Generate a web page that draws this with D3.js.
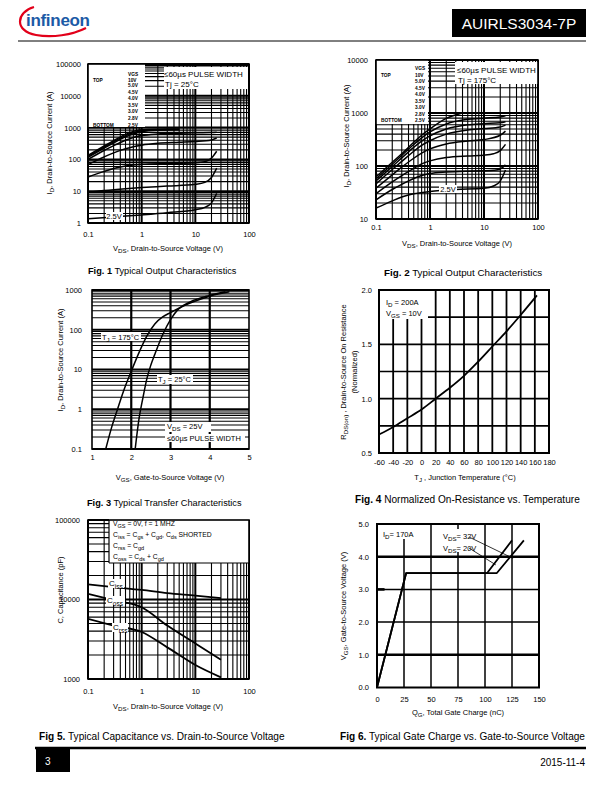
<!DOCTYPE html>
<html><head><meta charset="utf-8">
<script src="https://cdn.jsdelivr.net/npm/d3@7"></script>
<style>
body{margin:0;background:#fff}
svg{display:block}
text{font-family:"Liberation Sans",Arial,Helvetica,sans-serif;fill:#000}
</style>
</head><body>
<svg id="page" width="612" height="792"></svg>
<script>
// ---------------- DATA ----------------
// Fig 1: Typical output characteristics, Tj = 25°C  [VDS (V), ID (A)]
const fig1Legend = ["10V","5.0V","4.5V","4.0V","3.5V","3.0V","2.8V","2.5V"];
const fig1_10V = [[0.1,135],[0.2,265],[0.3,390],[0.5,610],[0.7,760],[1,850],[2,890],[5,900]];
const fig1_5V0 = [[0.1,125],[0.2,245],[0.3,360],[0.5,560],[0.7,700],[1,800],[2,860],[5,880]];
const fig1_4V5 = [[0.1,115],[0.2,225],[0.3,330],[0.5,510],[0.7,640],[1,740],[2,820],[5,850]];
const fig1_4V0 = [[0.1,100],[0.2,190],[0.3,270],[0.5,400],[0.7,490],[1,560],[2,630],[5,670],[10,690],[20,700],[25,710]];
const fig1_3V5 = [[0.1,68],[0.2,120],[0.3,160],[0.5,215],[0.7,250],[1,280],[2,320],[5,345],[10,365],[20,410],[25,470]];
const fig1_3V0 = [[0.1,28],[0.2,42],[0.3,52],[0.5,62],[0.7,67],[1,70],[3,74],[10,78],[15,84],[20,110],[25,180]];
const fig1_2V8 = [[0.1,9.2],[0.2,10.5],[0.5,12],[1,13],[3,14.5],[10,16.5],[15,19],[20,27],[25,53]];
const fig1_2V5 = [[0.1,1.35],[0.3,1.55],[1,1.8],[3,2.1],[10,2.6],[15,3.1],[20,4.3],[25,8.5]];

// Fig 2: Typical output characteristics, Tj = 175°C
const fig2Legend = ["10V","5.0V","4.5V","4.0V","3.5V","3.0V","2.8V","2.5V"];
const fig2_10V = [[0.1,62],[0.2,118],[0.3,170],[0.5,280],[0.7,380],[1,500],[2,790],[3.7,980]];
const fig2_5V0 = [[0.1,57],[0.2,108],[0.3,158],[0.5,255],[0.7,340],[1,440],[2,620],[5,760],[10,800],[20,840],[25,885]];
const fig2_4V5 = [[0.1,52],[0.2,98],[0.3,142],[0.5,225],[0.7,295],[1,370],[2,500],[5,600],[10,630],[20,655],[25,684]];
const fig2_4V0 = [[0.1,46],[0.2,86],[0.3,122],[0.5,190],[0.7,245],[1,300],[2,400],[5,480],[10,510],[20,545],[25,590]];
const fig2_3V5 = [[0.1,38],[0.2,68],[0.3,95],[0.5,140],[0.7,175],[1,210],[2,260],[5,295],[10,315],[20,380],[25,455]];
const fig2_3V0 = [[0.1,30],[0.2,50],[0.3,66],[0.5,90],[0.7,110],[1,125],[2,145],[5,155],[10,160],[15,170],[20,195],[25,256]];
const fig2_2V8 = [[0.1,23],[0.2,36],[0.3,45],[0.5,58],[0.7,66],[1,72],[2,77],[5,80],[10,81],[15,83],[20,88],[25,105]];
const fig2_2V5 = [[0.1,16],[0.2,22],[0.3,26],[0.5,30],[1,33],[3,36],[10,38],[15,42],[20,52],[25,84]];

// Fig 3: Transfer characteristics [VGS (V), ID (A)]
const fig3_175C = [[1.35,0.1],[1.5,0.35],[1.65,1],[1.8,2.8],[2.0,9],[2.2,27],[2.4,70],[2.6,140],[2.8,210],[3.0,270],[3.5,470],[4.0,700],[4.5,900]];
const fig3_25C = [[2.1,0.1],[2.2,0.6],[2.3,2],[2.4,6],[2.5,13],[2.6,24],[2.8,75],[3.0,180],[3.2,330],[3.5,500],[4.0,730],[4.4,900]];

// Fig 4: Normalized RDS(on) vs temperature [Tj (°C), ratio]
const fig4_rds = [[-60,0.67],[-40,0.74],[-20,0.82],[0,0.9],[20,1.0],[40,1.1],[60,1.21],[80,1.34],[100,1.48],[120,1.62],[140,1.77],[163,1.95]];

// Fig 5: Capacitance [VDS (V), C (pF)]
const fig5_ciss = [[0.1,15500],[0.3,14300],[1,13200],[3,12000],[10,11200],[30,10400]];
const fig5_coss = [[0.1,11800],[0.3,9800],[1,8000],[3,4700],[10,2800],[30,1750]];
const fig5_crss = [[0.1,5700],[0.3,4700],[1,3900],[3,2500],[10,1500],[30,1050]];

// Fig 6: Gate charge [QG (nC), VGS (V)]
const fig6_vds20 = [[0,0],[27,3.5],[102,3.5],[125,4.5]];
const fig6_vds32 = [[0,0],[27,3.5],[111,3.5],[136,4.5]];

// tick labels
const ticksFig1Y = [1,10,100,1000,10000,100000];
const ticksFig2Y = [10,100,1000,10000];
const ticksLogX = [0.1,1,10,100];
const ticksFig3X = [1,2,3,4,5];
const ticksFig3Y = [0.1,1,10,100,1000];
const ticksFig4X = [-60,-40,-20,0,20,40,60,80,100,120,140,160,180];
const ticksFig4Y = [0.5,1.0,1.5,2.0];
const ticksFig5Y = [1000,10000,100000];
const ticksFig6X = [0,25,50,75,100,125,150];
const ticksFig6Y = [0,1,2,3,4,5];

// ---------------- HELPERS ----------------
const svg = d3.select("#page");
let clipN = 0;

function rich(sel, str, fs) {
  const parts = str.split(/(_\{[^}]*\}|\*\*[^*]*\*\*)/).filter(s => s.length);
  let shift = 0;
  parts.forEach(p => {
    let t = p, sub = false, bold = false;
    if (p.startsWith("_{")) { t = p.slice(2, -1); sub = true; }
    else if (p.startsWith("**")) { t = p.slice(2, -2); bold = true; }
    const sp = sel.append("tspan").text(t);
    const want = sub ? fs * 0.32 : 0;
    if (want !== shift) { sp.attr("dy", want - shift); shift = want; }
    if (sub) sp.attr("font-size", fs * 0.82);
    if (bold) sp.attr("font-weight", "bold");
  });
  return sel;
}
function label(x, y, str, fs, opt = {}) {
  const t = svg.append("text").attr("x", x).attr("y", y).attr("font-size", fs)
    .attr("text-anchor", opt.anchor || "start");
  if (opt.rotate) t.attr("transform", `rotate(-90 ${x} ${y})`);
  if (opt.weight) t.attr("font-weight", opt.weight);
  if (opt.fill) t.style("fill", opt.fill);
  rich(t, str, fs);
  return t;
}
function whiteBox(x, y, w, h) {
  svg.append("rect").attr("x", x).attr("y", y).attr("width", w).attr("height", h).attr("fill", "#fff");
}
function panel(o) {
  const g = svg.append("g");
  const x = (o.xlog ? d3.scaleLog() : d3.scaleLinear()).domain(o.xd).range([o.L, o.R]);
  const y = (o.ylog ? d3.scaleLog() : d3.scaleLinear()).domain(o.yd).range([o.B, o.T]);
  const id = "clip" + (clipN++);
  svg.append("clipPath").attr("id", id).append("rect")
    .attr("x", o.L).attr("y", o.T).attr("width", o.R - o.L).attr("height", o.B - o.T);
  return { g, x, y, id, o };
}
const isDecade = v => Math.abs(Math.log10(v) - Math.round(Math.log10(v))) < 1e-6;
function vgrid(p, vals, w) {
  p.g.append("g").selectAll("line").data(vals).join("line")
    .attr("x1", d => p.x(d)).attr("x2", d => p.x(d))
    .attr("y1", p.o.T).attr("y2", p.o.B)
    .attr("stroke", "#000").attr("stroke-width", w);
}
function hgrid(p, vals, w) {
  p.g.append("g").selectAll("line").data(vals).join("line")
    .attr("y1", d => p.y(d)).attr("y2", d => p.y(d))
    .attr("x1", p.o.L).attr("x2", p.o.R)
    .attr("stroke", "#000").attr("stroke-width", w);
}
function frame(p, w = 1.6) {
  svg.append("rect").attr("x", p.o.L).attr("y", p.o.T)
    .attr("width", p.o.R - p.o.L).attr("height", p.o.B - p.o.T)
    .attr("fill", "none").attr("stroke", "#000").attr("stroke-width", w);
}
function curve(p, data, w = 1.5, smooth = true) {
  const line = d3.line().x(d => p.x(d[0])).y(d => p.y(d[1]));
  if (smooth) line.curve(d3.curveMonotoneX);
  svg.append("path").attr("clip-path", `url(#${p.id})`).attr("d", line(data))
    .attr("fill", "none").attr("stroke", "#000").attr("stroke-width", w)
    .attr("stroke-linejoin", "round");
}
function axes(p, xt, xfmt, xpad, yt, yfmt, ypad, fs = 7.5) {
  const ax = svg.append("g").attr("transform", `translate(0,${p.o.B})`)
    .call(d3.axisBottom(p.x).tickValues(xt).tickFormat(xfmt).tickSize(0).tickPadding(xpad));
  const ay = svg.append("g").attr("transform", `translate(${p.o.L},0)`)
    .call(d3.axisLeft(p.y).tickValues(yt).tickFormat(yfmt).tickSize(0).tickPadding(ypad));
  [ax, ay].forEach(a => {
    a.select(".domain").remove();
    a.selectAll("text").attr("font-size", fs).attr("font-family", null).style("fill", "#000");
  });
}
const fmtPlain = d => String(d);

// ---------------- HEADER / FOOTER ----------------
svg.append("path").attr("d", "M 34 7 C 16 12, 14 31, 36 35 C 52 38, 72 35, 86 28")
  .attr("fill", "none").attr("stroke", "#e2001a").attr("stroke-width", 2.2);
label(26, 26, "infineon", 17, { fill: "#1c5aa6", weight: "bold" }).attr("letter-spacing", -0.3);
svg.append("rect").attr("x", 452).attr("y", 9).attr("width", 134).attr("height", 28).attr("fill", "#000");
label(519, 29, "AUIRLS3034-7P", 15.5, { anchor: "middle", fill: "#fff" });
svg.append("line").attr("x1", 18).attr("x2", 586).attr("y1", 41).attr("y2", 41).attr("stroke", "#000").attr("stroke-width", 1);

svg.append("line").attr("x1", 35).attr("x2", 586).attr("y1", 748).attr("y2", 748).attr("stroke", "#000").attr("stroke-width", 2.5);
svg.append("rect").attr("x", 36).attr("y", 749).attr("width", 34).attr("height", 23).attr("fill", "#000");
label(45, 765, "3", 10, { fill: "#fff" });
label(585, 766, "2015-11-4", 10, { anchor: "end" });

// ---------------- FIG 1 ----------------
{
  const p = panel({ L: 88, R: 249, T: 64, B: 223, xlog: true, ylog: true, xd: [0.1, 100], yd: [1, 100000] });
  const xv = p.x.ticks(), yv = p.y.ticks();
  vgrid(p, xv.filter(d => !isDecade(d)), 1.1); vgrid(p, xv.filter(isDecade), 2);
  hgrid(p, yv.filter(d => !isDecade(d)), 1.1); hgrid(p, yv.filter(isDecade), 2);
  whiteBox(88, 64, 57, 63);
  whiteBox(164, 67, 84, 22);
  [fig1_10V, fig1_5V0, fig1_4V5, fig1_4V0, fig1_3V5, fig1_3V0, fig1_2V8, fig1_2V5].forEach(c => curve(p, c));
  frame(p);
  whiteBox(106, 212, 17, 8);
  label(114, 219, "2.5V", 7.5, { anchor: "middle" });
  label(128, 75.5, "VGS", 4.8, { weight: "bold" });
  label(93, 81.5, "TOP", 4.8, { weight: "bold" });
  label(93, 127, "BOTTOM", 4.8, { weight: "bold" });
  const ly = [81.5, 87, 93.5, 100, 106.5, 113, 120, 127];
  fig1Legend.forEach((s, i) => label(128, ly[i], s, 4.8, { weight: "bold" }));
  label(164, 77, "≤60µs PULSE WIDTH", 8);
  label(165, 86.5, "Tj = 25°C", 8);
  axes(p, ticksLogX, fmtPlain, 9, ticksFig1Y, fmtPlain, 7);
  label(52, 143, "I_{D}, Drain-to-Source Current (A)", 7.5, { anchor: "middle", rotate: true });
  label(168, 251, "V_{DS}, Drain-to-Source Voltage (V)", 7.5, { anchor: "middle" });
  label(88, 274, "**Fig. 1** Typical Output Characteristics", 9.2);
}

// ---------------- FIG 2 ----------------
{
  const p = panel({ L: 376, R: 538, T: 60, B: 219, xlog: true, ylog: true, xd: [0.1, 100], yd: [10, 10000] });
  const xv = p.x.ticks(), yv = p.y.ticks();
  vgrid(p, xv.filter(d => !isDecade(d)), 1.1); vgrid(p, xv.filter(isDecade), 2);
  hgrid(p, yv.filter(d => !isDecade(d)), 1.1); hgrid(p, yv.filter(isDecade), 2);
  whiteBox(376, 60, 52, 64);
  whiteBox(455, 62, 83, 22);
  [fig2_10V, fig2_5V0, fig2_4V5, fig2_4V0, fig2_3V5, fig2_3V0, fig2_2V8, fig2_2V5].forEach(c => curve(p, c));
  frame(p);
  whiteBox(439, 185, 18, 8);
  label(448, 192, "2.5V", 7.5, { anchor: "middle" });
  label(415, 70, "VGS", 4.8, { weight: "bold" });
  label(381, 76.5, "TOP", 4.8, { weight: "bold" });
  label(381, 122, "BOTTOM", 4.8, { weight: "bold" });
  const ly = [76.5, 83, 89.5, 96, 102.5, 109, 115.5, 122];
  fig2Legend.forEach((s, i) => label(415, ly[i], s, 4.8, { weight: "bold" }));
  label(457, 73, "≤60µs PULSE WIDTH", 8);
  label(458, 82.5, "Tj = 175°C", 8);
  axes(p, ticksLogX, fmtPlain, 6, ticksFig2Y, fmtPlain, 8);
  label(349, 136, "I_{D}, Drain-to-Source Current (A)", 7.5, { anchor: "middle", rotate: true });
  label(457, 246, "V_{DS}, Drain-to-Source Voltage (V)", 7.5, { anchor: "middle" });
  label(384, 276, "**Fig. 2** Typical Output Characteristics", 9.8);
}

// ---------------- FIG 3 ----------------
{
  const p = panel({ L: 92, R: 249, T: 290, B: 449, xlog: false, ylog: true, xd: [1, 5], yd: [0.1, 1000] });
  const yv = p.y.ticks();
  hgrid(p, yv.filter(d => !isDecade(d)), 1.1); hgrid(p, yv.filter(isDecade), 2.2);
  vgrid(p, [2, 3, 4], 2.2);
  [fig3_175C, fig3_25C].forEach(c => curve(p, c, 1.5));
  frame(p);
  whiteBox(101, 332, 40, 9);
  label(102, 340, "T_{J} = 175°C", 7.5);
  whiteBox(157, 375, 36, 9);
  label(158, 382, "T_{J} = 25°C", 7.5);
  whiteBox(165, 422, 46, 10);
  label(167, 429, "V_{DS} = 25V", 7.5);
  whiteBox(165, 434, 80, 8);
  label(167, 441, "≤60µs PULSE WIDTH", 7.5);
  axes(p, ticksFig3X, fmtPlain, 6, ticksFig3Y, fmtPlain, 10);
  label(63, 360, "I_{D}, Drain-to-Source Current  (A)", 7.5, { anchor: "middle", rotate: true });
  label(170, 480, "V_{GS}, Gate-to-Source Voltage (V)", 7.5, { anchor: "middle" });
  label(87, 506, "**Fig. 3** Typical Transfer Characteristics", 9.2);
}

// ---------------- FIG 4 ----------------
{
  const p = panel({ L: 379, R: 549, T: 290, B: 453, xlog: false, ylog: false, xd: [-60, 180], yd: [0.5, 2.0] });
  vgrid(p, d3.range(-40, 180, 20), 1.8);
  hgrid(p, [0.75, 1.0, 1.25, 1.5, 1.75], 1.6);
  whiteBox(380, 291, 48, 28);
  curve(p, fig4_rds, 1.8);
  frame(p, 2);
  label(386, 305, "I_{D} = 200A", 7.5);
  label(386, 316, "V_{GS} = 10V", 7.5);
  axes(p, ticksFig4X, fmtPlain, 7, ticksFig4Y, d3.format(".1f"), 7);
  label(346, 372, "R_{DS(on)} , Drain-to-Source On Resistance", 7.5, { anchor: "middle", rotate: true });
  label(357, 372, "(Normalized)", 7.5, { anchor: "middle", rotate: true });
  label(465, 480, "T_{J} , Junction Temperature (°C)", 7.5, { anchor: "middle" });
  label(355, 503, "**Fig. 4** Normalized On-Resistance vs. Temperature", 10.1);
}

// ---------------- FIG 5 ----------------
{
  const p = panel({ L: 88, R: 249, T: 520, B: 679, xlog: true, ylog: true, xd: [0.1, 100], yd: [1000, 100000] });
  const xv = p.x.ticks(), yv = p.y.ticks();
  vgrid(p, xv.filter(d => !isDecade(d)), 1.1); vgrid(p, xv.filter(isDecade), 2);
  hgrid(p, yv.filter(d => !isDecade(d)), 1.1); hgrid(p, yv.filter(isDecade), 2);
  whiteBox(109, 518, 140, 45);
  svg.append("line").attr("x1", 109).attr("x2", 109).attr("y1", 520).attr("y2", 563).attr("stroke", "#000").attr("stroke-width", 1.2);
  svg.append("line").attr("x1", 109).attr("x2", 249).attr("y1", 563).attr("y2", 563).attr("stroke", "#000").attr("stroke-width", 1.2);
  [fig5_ciss, fig5_coss, fig5_crss].forEach(c => curve(p, c, 1.8));
  frame(p);
  whiteBox(108, 579, 16, 9);
  label(109, 586, "C_{iss}", 8);
  whiteBox(106, 596, 19, 9);
  label(107, 603, "C_{oss}", 8);
  whiteBox(112, 623, 16, 9);
  label(113, 630, "C_{rss}", 8);
  label(113, 526, "V_{GS}   = 0V,       f = 1 MHZ", 6.8);
  label(113, 536.5, "C_{iss}   = C_{gs} + C_{gd},  C_{ds} SHORTED", 6.8);
  label(113, 547.5, "C_{rss}   = C_{gd}", 6.8);
  label(113, 558.5, "C_{oss}   = C_{ds} + C_{gd}", 6.8);
  axes(p, ticksLogX, fmtPlain, 10, ticksFig5Y, fmtPlain, 8);
  label(63, 590, "C, Capacitance (pF)", 7.5, { anchor: "middle", rotate: true });
  label(168, 709, "V_{DS}, Drain-to-Source Voltage (V)", 7.5, { anchor: "middle" });
  label(39, 740, "**Fig 5.**  Typical Capacitance vs. Drain-to-Source Voltage", 10.1);
}

// ---------------- FIG 6 ----------------
{
  const p = panel({ L: 377, R: 539, T: 524, B: 687.5, xlog: false, ylog: false, xd: [0, 150], yd: [0, 5] });
  vgrid(p, [25, 50, 75, 100, 125], 1.5);
  hgrid(p, [2, 3], 1.5);
  hgrid(p, [1, 4], 2.6);
  svg.append("line").attr("x1", p.x(0)).attr("x2", p.x(7)).attr("y1", p.y(3)).attr("y2", p.y(3)).attr("stroke", "#000").attr("stroke-width", 2.6);
  whiteBox(378, 525, 50, 14);
  whiteBox(440, 529, 36, 23);
  curve(p, fig6_vds20, 1.8, false);
  curve(p, fig6_vds32, 1.8, false);
  frame(p, 2);
  label(383, 537, "I_{D}= 170A", 7.5);
  label(443, 539, "V_{DS}= 32V", 7.5);
  label(443, 550.5, "V_{DS}= 20V", 7.5);
  svg.append("line").attr("x1", 469).attr("y1", 537).attr("x2", p.x(126)).attr("y2", p.y(3.95)).attr("stroke", "#000").attr("stroke-width", 0.8);
  svg.append("line").attr("x1", 469).attr("y1", 548).attr("x2", p.x(110)).attr("y2", p.y(3.75)).attr("stroke", "#000").attr("stroke-width", 0.8);
  axes(p, ticksFig6X, fmtPlain, 9, ticksFig6Y, d3.format(".1f"), 8);
  label(346, 606, "V_{GS}, Gate-to-Source Voltage (V)", 7.5, { anchor: "middle", rotate: true });
  label(458, 715, "Q_{G},  Total Gate Charge (nC)", 7.5, { anchor: "middle" });
  label(340, 740, "**Fig 6.**  Typical Gate Charge vs. Gate-to-Source Voltage", 10.1);
}
</script>
</body></html>
